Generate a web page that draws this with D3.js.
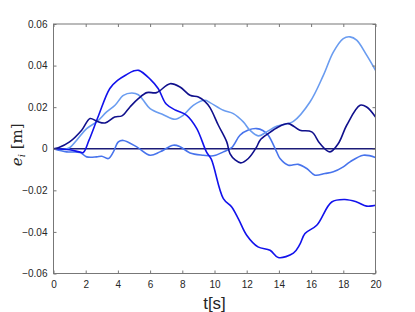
<!DOCTYPE html>
<html>
<head>
<meta charset="utf-8">
<script src="https://cdn.jsdelivr.net/npm/d3@7"></script>
<style>
  body { margin: 0; background: #fff; }
  svg text { font-family: "Liberation Sans", Arial, sans-serif; }
</style>
</head>
<body>
<div id="viz"></div>
<script>
// error signals e_i(t)
const xTicks = [0, 2, 4, 6, 8, 10, 12, 14, 16, 18, 20];
const yTicks = [-0.06, -0.04, -0.02, 0, 0.02, 0.04, 0.06];

const tRef = [0, 20];
const eRef = [0, 0];

const tNavy = [0, 0.3, 1.0, 1.75, 2.27, 2.7, 3.2, 3.8, 4.25, 4.75, 5.27, 5.8, 6.4, 7.24, 7.86, 8.48, 9.0, 9.4, 9.72, 10.24, 10.76, 10.96, 11.3, 11.63, 12.1, 12.62, 12.83, 13.34, 13.96, 14.59, 15.3, 16.04, 16.55, 17.17, 17.69, 18.21, 19.04, 19.45, 20];
const eNavy = [0, 0.0005, 0.0033, 0.0089, 0.0145, 0.0132, 0.0124, 0.0153, 0.0158, 0.0201, 0.0241, 0.027, 0.027, 0.0313, 0.0297, 0.0257, 0.0249, 0.0228, 0.0198, 0.0113, 0.0033, -0.0023, -0.0055, -0.0068, -0.0047, 0.0009, 0.0041, 0.0073, 0.0105, 0.0121, 0.0089, 0.0081, 0.0025, -0.0015, 0.0025, 0.0113, 0.0209, 0.0201, 0.0153];

const tBlue = [0, 1.0, 1.6, 1.85, 2.2, 2.8, 3.5, 4.0, 4.5, 5.0, 5.3, 6.0, 6.5, 7.0, 7.6, 8.27, 8.9, 9.5, 9.8, 10.55, 11.07, 11.5, 12.0, 12.7, 13.45, 13.96, 14.9, 15.3, 15.62, 16.35, 17.28, 18.1, 18.83, 19.45, 20];
const eBlue = [0, -0.0005, -0.0015, -0.0018, 0.004, 0.016, 0.029, 0.033, 0.0355, 0.0375, 0.0377, 0.0335, 0.029, 0.0215, 0.0185, 0.0161, 0.0097, -0.0015, -0.005, -0.024, -0.028, -0.034, -0.0416, -0.0472, -0.0488, -0.0523, -0.0502, -0.046, -0.0408, -0.0368, -0.0256, -0.0244, -0.0256, -0.0276, -0.0272];

const tLight = [0, 0.6, 1.0, 1.44, 2.06, 2.68, 3.3, 3.82, 4.34, 4.86, 5.27, 5.58, 6.0, 6.82, 7.55, 8.06, 8.68, 9.41, 9.72, 10.55, 11.17, 11.79, 12.2, 12.72, 13.24, 13.86, 14.9, 15.93, 16.76, 17.38, 18.0, 18.42, 18.83, 19.45, 20];
const eLight = [0, -0.0003, 0.0005, 0.0041, 0.0097, 0.0129, 0.0177, 0.0209, 0.0257, 0.0268, 0.026, 0.0233, 0.0193, 0.0164, 0.0142, 0.0161, 0.0209, 0.0233, 0.0222, 0.0185, 0.0169, 0.0129, 0.0089, 0.0062, 0.0081, 0.0108, 0.0132, 0.0225, 0.0353, 0.0465, 0.053, 0.0538, 0.0522, 0.045, 0.0377];

const tMid = [0, 0.82, 1.65, 2.06, 2.68, 3.0, 3.41, 3.72, 4.03, 4.34, 5.17, 6.0, 6.61, 7.44, 7.86, 8.48, 9.3, 9.93, 10.55, 11.07, 11.58, 12.1, 12.62, 13.0, 13.34, 13.86, 14.07, 14.59, 15.2, 15.73, 16.24, 16.86, 17.38, 18.0, 18.42, 19.24, 20];
const eMid = [0, -0.0015, -0.0018, -0.0039, -0.0039, -0.0036, -0.0047, -0.0015, 0.0033, 0.004, 0.0009, -0.0031, -0.0015, 0.0017, 0.001, -0.002, -0.0031, -0.0034, -0.0015, 0.0006, 0.0065, 0.009, 0.0097, 0.0088, 0.0065, -0.0015, -0.0047, -0.0079, -0.0075, -0.0095, -0.0127, -0.0119, -0.0111, -0.0087, -0.0063, -0.0031, -0.0042];

const series = [
    { t: tRef, e: eRef, color: '#1c1c78' },
    { t: tMid, e: eMid, color: '#4874ec' },
    { t: tLight, e: eLight, color: '#6a9cf0' },
    { t: tBlue, e: eBlue, color: '#1212ec' },
    { t: tNavy, e: eNavy, color: '#10108c' }
];

const W = 415, H = 312;
const mLeft = 53.5, mRight = 375.5, mTop = 24, mBottom = 273.5;

const svg = d3.select('#viz')
    .append('svg')
    .attr('width', W)
    .attr('height', H);

const x = d3.scaleLinear().domain([0, 20]).range([mLeft, mRight]);
const y = d3.scaleLinear().domain([-0.06, 0.06]).range([mBottom, mTop]);

svg.append('clipPath').attr('id', 'clip')
    .append('rect')
    .attr('x', mLeft).attr('y', mTop)
    .attr('width', mRight - mLeft).attr('height', mBottom - mTop);

const line = d3.line()
    .x(d => x(d[0]))
    .y(d => y(d[1]))
    .curve(d3.curveCatmullRom.alpha(0.5));

const lines = svg.append('g').attr('clip-path', 'url(#clip)');
series.forEach(s => {
    lines.append('path')
        .datum(s.t.map((t, i) => [t, s.e[i]]))
        .attr('fill', 'none')
        .attr('stroke', s.color)
        .attr('stroke-width', 1.6)
        .attr('stroke-linejoin', 'round')
        .attr('d', line);
});

// box with inward ticks on all four sides
const axisColor = '#777';
const fmtY = d => d === 0 ? '0' : d3.format('.2f')(d);

svg.append('g')
    .attr('transform', `translate(0,${mBottom})`)
    .call(d3.axisBottom(x).tickValues(xTicks).tickSizeInner(-3).tickSizeOuter(0).tickPadding(7))
    .call(g => g.select('.domain').remove());
svg.append('g')
    .attr('transform', `translate(0,${mTop})`)
    .call(d3.axisTop(x).tickValues(xTicks).tickSizeInner(-3).tickSizeOuter(0).tickFormat(''))
    .call(g => g.select('.domain').remove());
svg.append('g')
    .attr('transform', `translate(${mLeft},0)`)
    .call(d3.axisLeft(y).tickValues(yTicks).tickFormat(fmtY).tickSizeInner(-3).tickSizeOuter(0).tickPadding(6))
    .call(g => g.select('.domain').remove());
svg.append('g')
    .attr('transform', `translate(${mRight},0)`)
    .call(d3.axisRight(y).tickValues(yTicks).tickSizeInner(-3).tickSizeOuter(0).tickFormat(''))
    .call(g => g.select('.domain').remove());

svg.selectAll('.tick line').attr('stroke', axisColor);
svg.selectAll('.tick text')
    .attr('fill', '#262626')
    .style('font-size', '10px');

svg.append('rect')
    .attr('x', mLeft).attr('y', mTop)
    .attr('width', mRight - mLeft).attr('height', mBottom - mTop)
    .attr('fill', 'none')
    .attr('stroke', axisColor)
    .attr('stroke-width', 1);

svg.append('text')
    .attr('x', (mLeft + mRight) / 2)
    .attr('y', 309)
    .attr('text-anchor', 'middle')
    .attr('fill', '#262626')
    .style('font-size', '17px')
    .text('t[s]');

const ylab = svg.append('text')
    .attr('transform', `translate(22,${(mTop + mBottom) / 2 - 4}) rotate(-90)`)
    .attr('text-anchor', 'middle')
    .attr('fill', '#262626')
    .style('font-family', '"DejaVu Serif", "Liberation Serif", serif')
    .style('font-size', '15px');
ylab.append('tspan').style('font-style', 'italic').text('e');
ylab.append('tspan').style('font-style', 'italic').style('font-size', '10px').attr('dy', 3).text('i');
ylab.append('tspan').attr('dy', -3).text(' [m]');
</script>
</body>
</html>
